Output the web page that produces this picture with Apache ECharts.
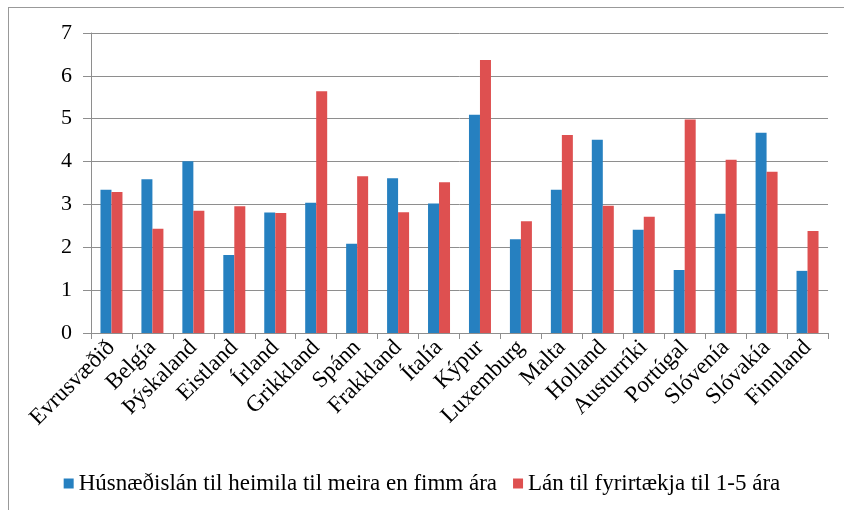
<!DOCTYPE html>
<html>
<head>
<meta charset="utf-8">
<script src="https://cdn.jsdelivr.net/npm/echarts@6/dist/echarts.min.js"></script>
<style>
  html, body { margin: 0; padding: 0; background: #fff; }
  #chart { width: 844px; height: 510px; }
</style>
</head>
<body>
<div id="chart"></div>
<script>
// lönd (categories)
var countries = ['Evrusvæðið', 'Belgía', 'Þýskaland', 'Eistland', 'Írland', 'Grikkland', 'Spánn',
  'Frakkland', 'Ítalía', 'Kýpur', 'Luxemburg', 'Malta', 'Holland', 'Austurríki', 'Portúgal',
  'Slóvenía', 'Slóvakía', 'Finnland'];

var seriesNames = ['Húsnæðislán til heimila til meira en fimm ára', 'Lán til fyrirtækja til 1-5 ára'];

var housingLoans = [3.34, 3.59, 4.01, 1.82, 2.81, 3.04, 2.08, 3.61, 3.02, 5.09, 2.19, 3.34, 4.51, 2.41, 1.47, 2.78, 4.67, 1.45];
var businessLoans = [3.29, 2.43, 2.85, 2.96, 2.80, 5.64, 3.66, 2.82, 3.52, 6.37, 2.61, 4.62, 2.97, 2.71, 4.98, 4.04, 3.76, 2.38];

var font = "'Liberation Serif', 'Times New Roman', serif";
var gray = '#8e8e8e';

var chart = echarts.init(document.getElementById('chart'));

chart.setOption({
  animation: false,
  color: ['#2680c0', '#de5050'],
  textStyle: { fontFamily: font },
  grid: { left: 91, right: 16, top: 33, bottom: 177 },
  legend: {
    top: 467,
    left: 'center',
    itemWidth: 10,
    itemHeight: 10,
    itemGap: 16,
    icon: 'rect',
    textStyle: { fontFamily: font, fontSize: 23, color: '#000' },
    data: seriesNames
  },
  xAxis: {
    type: 'category',
    data: countries,
    axisLine: { lineStyle: { color: gray, width: 1 } },
    axisTick: { show: true, length: 6, lineStyle: { color: gray } },
    axisLabel: { rotate: 45, interval: 0, margin: 11, fontSize: 23, color: '#000', fontFamily: font }
  },
  yAxis: {
    type: 'value',
    min: 0,
    max: 7,
    interval: 1,
    axisLine: { show: true, lineStyle: { color: gray } },
    axisTick: { show: true, length: 8, lineStyle: { color: gray } },
    axisLabel: { fontSize: 22, color: '#000', margin: 19, fontFamily: font },
    splitLine: { lineStyle: { color: gray, width: 1 } }
  },
  graphic: [
    { type: 'line', shape: { x1: 8, y1: 7.5, x2: 844, y2: 7.5 }, style: { stroke: '#999', lineWidth: 1 } },
    { type: 'line', shape: { x1: 8.5, y1: 7, x2: 8.5, y2: 510 }, style: { stroke: '#999', lineWidth: 1 } }
  ],
  series: [
    { name: seriesNames[0], type: 'bar', data: housingLoans, barWidth: 11, barGap: '0%' },
    { name: seriesNames[1], type: 'bar', data: businessLoans, barWidth: 11, barGap: '0%' }
  ]
});
</script>
</body>
</html>
